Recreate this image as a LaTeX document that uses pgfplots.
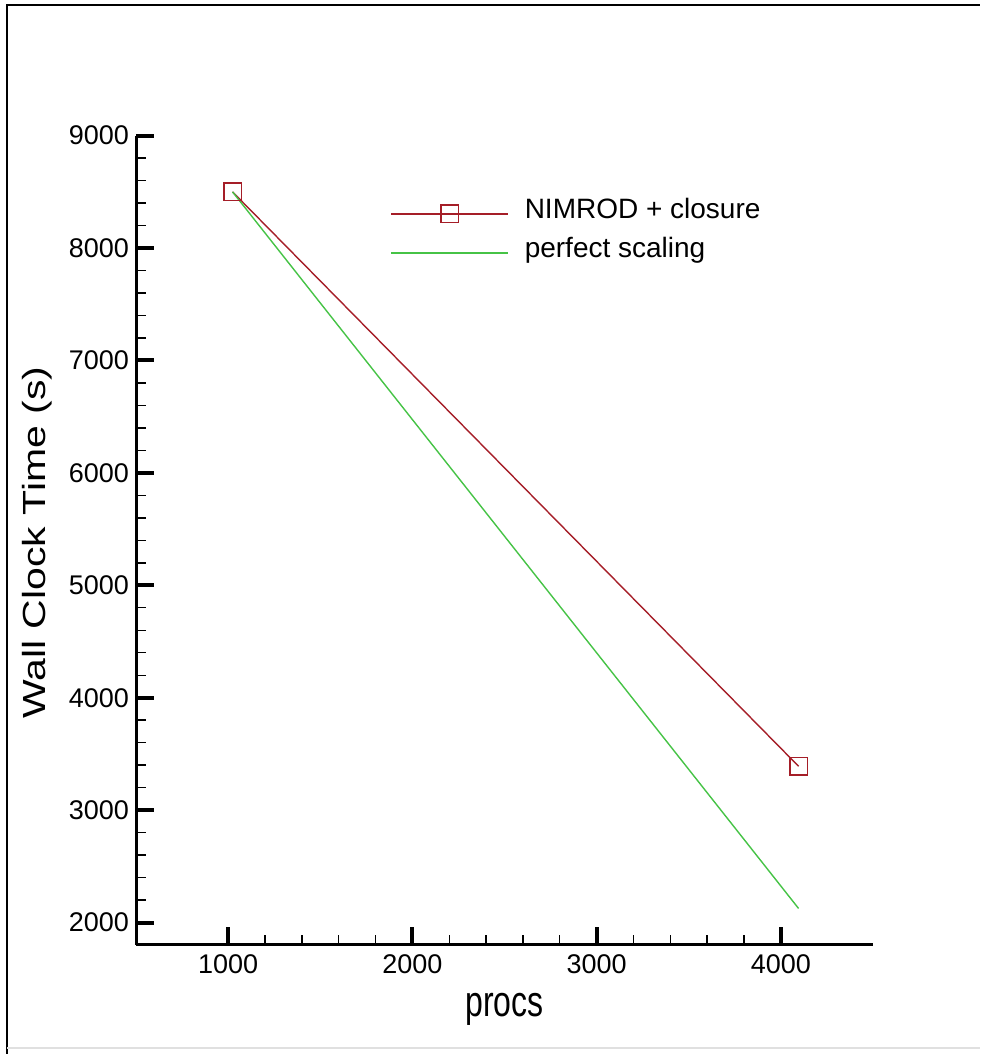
\documentclass[border=0pt]{standalone}
\usepackage{fontspec}
\setmainfont{Liberation Sans}
\usepackage{graphicx}
\usepackage{pgfplots}
\pgfplotsset{compat=1.18}

\definecolor{nimred}{RGB}{165,30,40}
\definecolor{perfgreen}{RGB}{70,195,70}

\begin{document}
\begin{tikzpicture}
\useasboundingbox (0,0) rectangle (490pt,527pt);
% outer frame (left and top only, faint bottom)
\draw[line width=1.2pt] (3.5pt,0) -- (3.5pt,524.5pt) -- (490pt,524.5pt);
\draw[black!12, line width=0.6pt] (3.5pt,3pt) -- (490pt,3pt);
\begin{axis}[
  at={(68pt,54.5pt)}, anchor=south west,
  scale only axis, width=368.5pt, height=404.65pt,
  xmin=500, xmax=4500, ymin=1800, ymax=9000,
  axis x line=bottom, axis y line=left,
  axis line style={-, line width=1.5pt},
  xtick={1000,2000,3000,4000}, ytick={2000,3000,...,9000},
  minor x tick num=4, minor y tick num=4,
  tick align=inside,
  major tick length=9pt, minor tick length=5pt,
  every major tick/.append style={line width=2pt, black},
  every minor tick/.append style={line width=0.7pt, black},
  scaled ticks=false,
  /pgf/number format/assume math mode=true,
  /pgf/number format/1000 sep={},
  ticklabel style={font=\fontsize{13.5}{16}\selectfont},
  xticklabel style={yshift=-1.5pt},
  xlabel={\scalebox{1}[1.35]{procs}},
  xlabel style={at={(axis description cs:0.5,-0.0791)}, anchor=center, font=\fontsize{16}{19}\selectfont},
  ylabel={\scalebox{1.28}[1]{Wall Clock Time (s)}},
  ylabel style={at={(axis description cs:-0.1343,0.497)}, anchor=center, font=\fontsize{16}{19}\selectfont},
  legend style={draw=none, fill=none, at={(axis description cs:0.3446,0.9188)}, anchor=north west,
    inner sep=0pt, row sep=7.5pt, column sep=7pt, font=\fontsize{14}{17}\selectfont,
    nodes={inner sep=1pt, text height=0.75em, text depth=0.25em}},
  legend cell align=left,
  legend image code/.code={\draw[mark repeat=2,mark phase=2] plot coordinates {(0pt,0pt) (29.25pt,0pt) (58.5pt,0pt)};},
]
\addplot[nimred, line width=0.7pt, mark=square, mark size=4.4pt, mark options={line width=0.8pt}]
  coordinates {(1024,8500) (4096,3390)};
\addlegendentry{NIMROD + closure}
\addplot[perfgreen, line width=0.7pt]
  coordinates {(1024,8500) (4096,2125)};
\addlegendentry{perfect scaling}
\end{axis}
\end{tikzpicture}
\end{document}
